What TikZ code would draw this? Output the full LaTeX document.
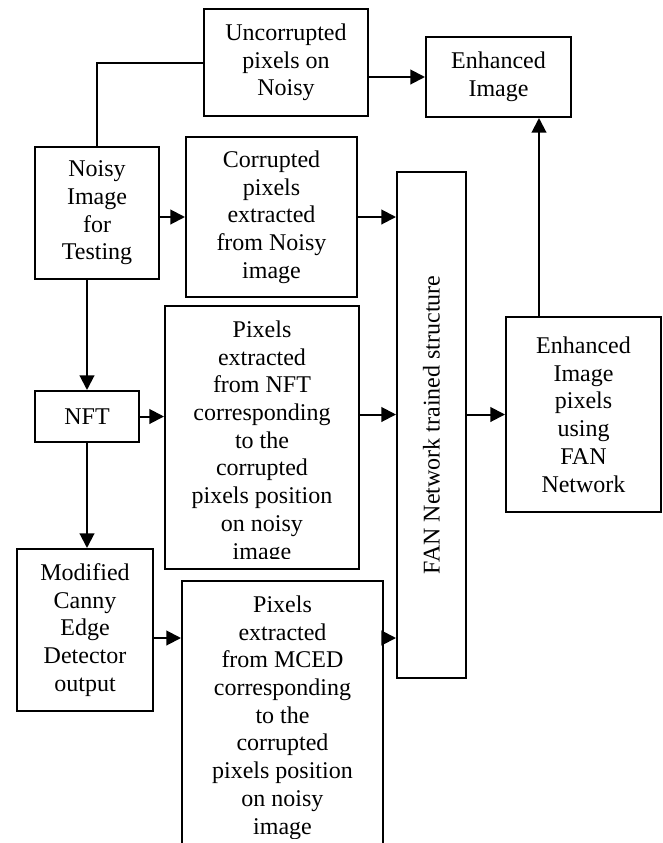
\documentclass[tikz,border=0pt]{standalone}
\usepackage{fontspec}
\setmainfont{Liberation Serif}
\usetikzlibrary{arrows.meta}
\newcommand\fsz{\fontsize{18pt}{20.8pt}\selectfont}
\begin{document}
\begin{tikzpicture}[x=0.75pt,y=-0.75pt,
  box/.style={draw, line width=1.5pt, inner sep=0pt, align=center, font=\fsz},
  txt/.style={inner sep=0pt, align=center, font=\fsz},
  arr/.style={line width=1.5pt, -{Triangle[length=11pt,width=11pt]}},
  ln/.style={line width=1.5pt}]
\useasboundingbox (0,0) rectangle (662,843);
% boxes
\node[box, minimum width=164*0.75pt, minimum height=107*0.75pt] (unc) at (286,62.5) {Uncorrupted\\pixels on\\Noisy};
\node[box, minimum width=145*0.75pt, minimum height=80*0.75pt] (enh) at (498.5,77) {Enhanced\\Image};
\node[box, minimum width=124*0.75pt, minimum height=132*0.75pt] (noisy) at (97,213) {Noisy\\Image\\for\\Testing};
\node[box, minimum width=171*0.75pt, minimum height=160*0.75pt] (corr) at (271.5,217) {Corrupted\\pixels\\extracted\\from Noisy\\image};
\node[box, minimum width=69*0.75pt, minimum height=506*0.75pt] (fan) at (431.5,425) {};
\node[txt, rotate=90] (fantext) at (fan.center) {FAN Network trained structure};
\node[box, minimum width=104*0.75pt, minimum height=51*0.75pt] (nft) at (87,416.5) {NFT};
\node[box, minimum width=194*0.75pt, minimum height=263*0.75pt] (pnft) at (262,437.5) {};
\begin{scope}
\clip (165,306) rectangle (359,558);
\node[txt] (pnfttext) at (262,442.5) {Pixels\\extracted\\from NFT\\corresponding\\to the\\corrupted\\pixels position\\on noisy\\image};
\end{scope}
\node[box, minimum width=155*0.75pt, minimum height=195*0.75pt] (enhp) at (583.5,414.5) {Enhanced\\Image\\pixels\\using\\FAN\\Network};
\node[box, minimum width=136*0.75pt, minimum height=162*0.75pt] (mod) at (85,630) {Modified\\Canny\\Edge\\Detector\\output};
\node[box, minimum width=201*0.75pt, minimum height=319*0.75pt] (mced) at (282.5,740.5) {};
\begin{scope}
\clip (182,581) rectangle (383,838);
\node[txt] (mcedtext) at (282.5,717.5) {Pixels\\extracted\\from MCED\\corresponding\\to the\\corrupted\\pixels position\\on noisy\\image};
\end{scope}
% helper coordinates
\coordinate (upx) at (539,0);
\coordinate (lowarr) at (0,638);
% connectors
\draw[ln] (noisy.north) |- (unc.west);
\draw[arr] (enh.west -| unc.east) -- (enh.west);
\draw[arr] (corr.west -| noisy.east) -- (corr.west);
\draw[arr] (corr.east) -- (corr.east -| fan.west);
\draw[arr] (enhp.north -| upx) -- (enh.south -| upx);
\draw[arr] (nft.north |- noisy.south) -- (nft.north);
\draw[arr] (nft.east) -- (nft.east -| pnft.west);
\draw[arr] (enhp.west -| pnft.east) -- (enhp.west -| fan.west);
\draw[arr] (enhp.west -| fan.east) -- (enhp.west);
\draw[arr] (nft.south) -- (nft.south |- mod.north);
\draw[arr] (mod.east |- lowarr) -- (mced.west |- lowarr);
\draw[arr] (mced.east |- lowarr) -- (fan.west |- lowarr);
\end{tikzpicture}
\end{document}
